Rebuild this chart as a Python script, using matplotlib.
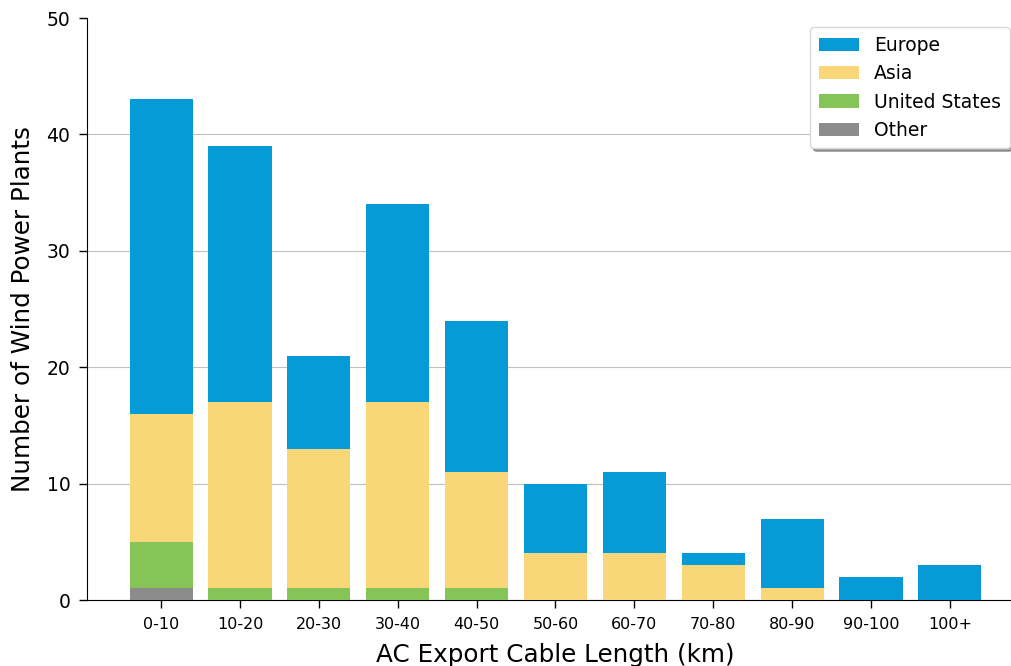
import matplotlib
matplotlib.use("Agg")
import matplotlib.pyplot as plt
import numpy as np

categories = ["0-10", "10-20", "20-30", "30-40", "40-50", "50-60",
              "60-70", "70-80", "80-90", "90-100", "100+"]
other = [1, 0, 0, 0, 0, 0, 0, 0, 0, 0, 0]
united_states = [4, 1, 1, 1, 1, 0, 0, 0, 0, 0, 0]
asia = [11, 16, 12, 16, 10, 4, 4, 3, 1, 0, 0]
europe = [27, 22, 8, 17, 13, 6, 7, 1, 6, 2, 3]

fig = plt.figure(figsize=(10.12, 6.66), dpi=100)
ax = fig.add_axes([87 / 1012, 66 / 666, (1024 - 87) / 1012, (600 - 18) / 666])

x = np.arange(len(categories))
b1 = np.array(other)
b2 = b1 + np.array(united_states)
b3 = b2 + np.array(asia)

ax.bar(x, europe, bottom=b3, color="#069bd7", label="Europe", zorder=3)
ax.bar(x, asia, bottom=b2, color="#f9d778", label="Asia", zorder=3)
ax.bar(x, united_states, bottom=b1, color="#85c557", label="United States", zorder=3)
ax.bar(x, other, color="#8c8c8c", label="Other", zorder=3)

ax.set_ylim(0, 50)
ax.set_xticks(x)
ax.set_xticklabels(categories, fontsize=11.5)
ax.tick_params(axis="y", labelsize=13.5, length=6, width=1, pad=6)
ax.tick_params(axis="x", length=6, width=1, pad=6)
ax.set_xlabel("AC Export Cable Length (km)", fontsize=17.7, labelpad=8)
ax.set_ylabel("Number of Wind Power Plants", fontsize=17.7, labelpad=8)
ax.grid(axis="y", color="#c0c0c0", linewidth=0.8, zorder=0)
ax.yaxis.get_gridlines()[-1].set_visible(False)
ax.spines["top"].set_visible(False)
ax.spines["right"].set_visible(False)

leg = ax.legend(loc="upper right", bbox_to_anchor=(1019 / 1012, 1 - 18 / 666),
                bbox_transform=fig.transFigure, fontsize=13.5, shadow=True,
                fancybox=True, framealpha=1, handlelength=2.15,
                labelspacing=0.5, borderpad=0.45)
leg.get_frame().set_edgecolor("#d8d8d8")

fig.savefig("out.png", dpi=100)
